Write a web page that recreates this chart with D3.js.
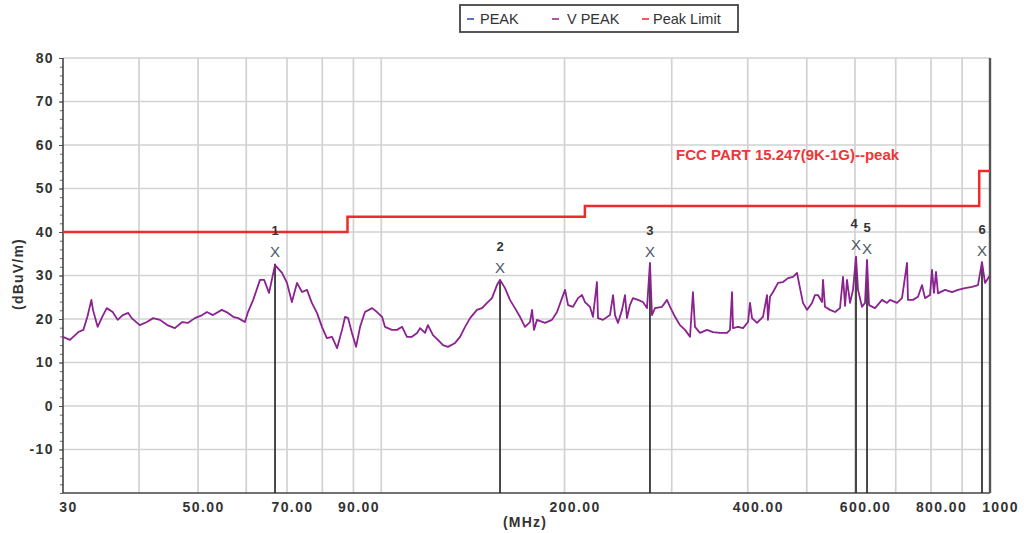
<!DOCTYPE html>
<html>
<head>
<meta charset="utf-8">
<script src="https://cdn.jsdelivr.net/npm/d3@7"></script>
<style>
  html, body { margin: 0; padding: 0; background: #fff; }
  svg { display: block; font-family: Arial, "Liberation Sans", sans-serif; }
</style>
</head>
<body>
<svg id="chart" width="1024" height="533"></svg>
<script>
// ---------- DATA ----------
const xTickValues = [30, 50, 70, 90, 200, 400, 600, 800, 1000];
const xTickLabels = ["30", "50.00", "70.00", "90.00", "200.00", "400.00", "600.00", "800.00", "1000"];
const xGridValues = [40, 50, 60, 70, 80, 90, 100, 200, 300, 400, 500, 600, 700, 800, 900];
const yTickValues = [-10, 0, 10, 20, 30, 40, 50, 60, 70, 80];
const yGridValues = [-10, 0, 10, 20, 30, 40, 50, 60, 70, 80];

const traceFreq = [
  30.0, 30.8, 31.8, 32.4, 32.9, 33.4, 33.6, 34.2, 34.8, 35.4, 36.2, 36.9, 37.6, 38.4, 38.9,
  40.1, 41.2, 42.2, 43.3, 44.5, 45.8, 47.1, 48.1, 49.4, 50.8, 51.7, 52.9, 54.7, 56.0, 57.1,
  58.2, 59.7, 60.4, 61.6, 63.2, 64.2, 65.4, 66.9, 68.7, 70.0, 71.3, 72.7,
  74.1, 75.5, 76.9, 78.4, 79.9, 81.4, 83.0, 84.6, 86.2, 87.2, 88.2, 89.5, 90.9, 92.3, 94.0,
  96.6, 98.4, 100.3, 101.4, 104.1, 106.1, 108.2, 110.2, 112.3, 114.5, 115.8, 118.0, 119.3,
  121.6, 123.9, 126.3, 128.7, 132.2, 134.7, 137.3, 139.9, 143.6, 146.4, 149.2, 152.0, 154.9,
  156.7, 159.7, 162.7, 165.8, 169.0, 172.2, 175.5, 176.9, 178.2,
  180.2, 185.8, 190.7, 194.4, 198.1, 200.4, 202.7, 206.5, 210.5, 213.7, 216.1, 220.2, 222.7,
  226.1, 227.0, 231.3, 237.5, 240.3, 242.1, 244.8, 248.6, 251.4, 253.3, 256.1, 259.1, 264.1,
  269.1, 273.2, 276.3, 278.4, 281.6, 289.2, 294.7, 298.1, 303.8, 309.5, 315.5, 321.5, 325.1,
  327.6, 333.9, 342.8, 350.7, 360.1, 369.8, 374.0, 376.9, 378.3, 385.5, 392.9, 400.4, 403.4,
  406.5, 414.2, 423.7, 430.2, 431.8, 435.1, 440.1, 448.5, 457.0, 465.8, 474.7, 481.9, 487.4,
  492.9, 500.5, 510.0, 515.8, 521.7, 529.7, 531.7, 535.7, 546.0, 556.4, 567.0, 573.5, 578.0,
  582.2, 588.9, 595.6, 602.4, 607.0, 616.2, 623.3, 628.0, 632.8, 647.3, 664.7, 677.3, 685.1,
  703.4, 716.9, 730.6, 733.3, 747.3, 761.6, 773.2, 782.0, 797.0, 803.0, 809.0, 815.3, 821.4,
  843.5, 866.1, 886.0, 909.8, 934.2, 955.6, 970.2, 981.3, 996.2, 1000
];
const traceLevel = [
  15.9, 15.2, 17.0, 17.5, 20.5, 24.4, 22.1, 18.2, 20.5, 22.5, 21.6, 19.8, 20.9, 21.4, 20.2,
  18.6, 19.3, 20.2, 19.8, 18.6, 17.9, 19.3, 19.1, 20.2, 20.9, 21.6, 20.9, 22.1, 21.4, 20.5,
  20.2, 19.3, 21.6, 24.4, 29.0, 29.0, 26.0, 32.4, 30.6, 28.3, 23.9, 28.3,
  26.2, 26.7, 23.7, 21.4, 18.2, 15.6, 15.9, 13.3, 17.5, 20.5, 20.2, 16.8, 13.6, 18.2, 21.6,
  22.5, 21.6, 20.5, 18.2, 17.5, 17.5, 18.2, 15.9, 15.9, 16.8, 17.9, 16.8, 18.6,
  16.3, 15.2, 14.0, 13.6, 14.5, 15.9, 18.2, 20.2, 22.1, 22.5, 23.7, 24.8, 27.8,
  29.0, 27.1, 24.4, 22.5, 20.5, 18.2, 19.3, 22.1, 17.5,
  19.8, 19.1, 19.8, 21.6, 24.8, 26.7, 23.2, 22.8, 24.8, 25.5, 23.9, 22.8, 20.5,
  28.5, 20.2, 19.8, 20.9, 25.5, 20.9, 19.1, 22.1, 25.5, 20.2, 23.2, 24.8, 24.4,
  23.9, 22.5, 32.9, 20.9, 22.5, 22.8, 24.4, 22.8, 20.5, 18.6, 17.5, 15.9, 26.2,
  18.2, 16.8, 17.5, 17.0, 16.8, 16.8, 17.5, 26.2, 17.9, 18.2, 17.9, 19.3, 23.7,
  20.2, 19.1, 20.5, 25.5, 19.8, 25.1, 26.2, 28.3, 28.5, 29.4, 29.7, 30.6, 27.1,
  23.7, 22.1, 23.7, 25.5, 25.5, 23.9, 29.0, 22.8, 22.1, 21.6, 22.5, 29.7, 23.0,
  29.0, 23.7, 26.7, 34.3, 26.7, 22.8, 23.7, 33.6, 23.2, 22.5, 24.4, 23.7, 24.4,
  23.7, 24.8, 32.9, 24.4, 24.4, 25.1, 27.8, 24.8, 25.5, 31.3, 26.0, 30.8, 25.9,
  26.7, 26.2, 26.7, 27.1, 27.4, 27.8, 33.1, 28.3, 29.7, 29.5
];

const limitFreq  = [30, 88, 88, 216, 216, 960, 960, 1000];
const limitLevel = [40, 40, 43.5, 43.5, 46, 46, 54, 54];
const limitLabel = "FCC PART 15.247(9K-1G)--peak";

const markerIds   = ["1", "2", "3", "4", "5", "6"];
const markerFreq  = [66.9, 156.7, 276.3, 602.4, 628.0, 970.2];
const markerLevel = [32.7, 29.0, 32.6, 34.3, 33.4, 32.9];

const legendNames  = ["PEAK", "V PEAK", "Peak Limit"];
const legendColors = ["#3a4fb0", "#9a2a9e", "#f03030"];

// ---------- LAYOUT ----------
const svg = d3.select("#chart");
const x = d3.scaleLog().domain([30, 1000]).range([63, 990]);
const y = d3.scaleLinear().domain([-20, 80]).range([493, 58]);
const textCol = "#333";
const FONT = "Arial, 'Liberation Sans', sans-serif";

// grid
svg.append("g").selectAll("line").data(xGridValues).join("line")
  .attr("x1", d => x(d)).attr("x2", d => x(d))
  .attr("y1", y(80)).attr("y2", y(-20))
  .attr("stroke", "#d2d2d2").attr("stroke-width", 1.7);
svg.append("g").selectAll("line").data(yGridValues).join("line")
  .attr("x1", x(30)).attr("x2", x(1000))
  .attr("y1", d => y(d)).attr("y2", d => y(d))
  .attr("stroke", "#d2d2d2").attr("stroke-width", 1.7);

// y axis with minor ticks
const yMinor = d3.range(-20, 80.1, 2);
svg.append("g").attr("transform", `translate(${x(30)},0)`)
  .call(d3.axisLeft(y).tickValues(yMinor).tickSize(3).tickFormat(""))
  .call(g => g.select(".domain").remove())
  .call(g => g.selectAll("line").attr("stroke", "#666").attr("stroke-width", 1));
const yAx = svg.append("g").attr("transform", `translate(${x(30)},0)`)
  .call(d3.axisLeft(y).tickValues(yTickValues).tickSize(4).tickPadding(5).tickFormat(d => d));
yAx.select(".domain").remove();
yAx.selectAll("line").attr("stroke", "#555");
yAx.selectAll("text").attr("font-size", 14).attr("font-weight", "bold")
  .attr("letter-spacing", 1.4)
  .attr("fill", textCol).attr("font-family", FONT);

// x axis
const xAx = svg.append("g").attr("transform", `translate(0,${y(-20)})`)
  .call(d3.axisBottom(x).tickValues(xTickValues).tickSize(0).tickPadding(9)
    .tickFormat((d, i) => xTickLabels[i]));
xAx.select(".domain").remove();
xAx.selectAll("text").attr("font-size", 14).attr("font-weight", "bold")
  .attr("letter-spacing", 1.4)
  .attr("fill", textCol).attr("font-family", FONT)
  .attr("dx", d => d < 100 ? 5 : 10);

// frame lines
svg.append("line").attr("x1", x(30)).attr("x2", x(30)).attr("y1", y(80)).attr("y2", y(-20))
  .attr("stroke", "#444").attr("stroke-width", 1.6);
svg.append("line").attr("x1", x(30)).attr("x2", x(1000)).attr("y1", y(-20)).attr("y2", y(-20))
  .attr("stroke", "#444").attr("stroke-width", 1.6);
svg.append("line").attr("x1", x(1000)).attr("x2", x(1000)).attr("y1", y(80)).attr("y2", y(-20))
  .attr("stroke", "#555").attr("stroke-width", 2.4);

// limit line
const limitData = limitFreq.map((f, i) => [f, limitLevel[i]]);
svg.append("path").datum(limitData)
  .attr("d", d3.line().x(d => x(d[0])).y(d => y(d[1])))
  .attr("fill", "none").attr("stroke", "#ee2a2a").attr("stroke-width", 2.5);
svg.append("text").attr("x", 676).attr("y", 160).text(limitLabel)
  .attr("font-size", 15).attr("font-weight", "bold").attr("fill", "#f03535");

// marker lines
svg.append("g").selectAll("line").data(markerFreq).join("line")
  .attr("x1", d => x(d)).attr("x2", d => x(d))
  .attr("y1", (d, i) => y(markerLevel[i])).attr("y2", y(-20))
  .attr("stroke", "#2a2a2a").attr("stroke-width", 1.7);

// trace
const traceData = traceFreq.map((f, i) => [f, traceLevel[i]]);
svg.append("path").datum(traceData)
  .attr("d", d3.line().x(d => x(d[0])).y(d => y(d[1])))
  .attr("fill", "none").attr("stroke", "#8a2290").attr("stroke-width", 1.8)
  .attr("stroke-linejoin", "round");

// marker symbols
const mg = svg.append("g");
markerFreq.forEach((f, i) => {
  const mx = x(f), my = y(markerLevel[i]);
  mg.append("text").attr("x", mx).attr("y", my - 7).attr("text-anchor", "middle")
    .attr("font-size", 15).attr("fill", "#4a5868").text("X");
  mg.append("text").attr("x", mx - (i === 3 ? 2 : 0)).attr("y", my - 29).attr("text-anchor", "middle")
    .attr("font-size", 13).attr("font-weight", "bold").attr("fill", "#333").text(markerIds[i]);
});

// axis titles
svg.append("text").attr("transform", "translate(23,274) rotate(-90)")
  .attr("text-anchor", "middle").attr("font-size", 14).attr("font-weight", "bold")
  .attr("letter-spacing", 1.2)
  .attr("fill", textCol).text("(dBuV/m)");
svg.append("text").attr("x", 525).attr("y", 527).attr("text-anchor", "middle")
  .attr("font-size", 14).attr("font-weight", "bold").attr("letter-spacing", 1.2)
  .attr("fill", textCol).text("(MHz)");

// legend
const lg = svg.append("g");
lg.append("rect").attr("x", 460).attr("y", 5).attr("width", 278).attr("height", 27)
  .attr("fill", "#fff").attr("stroke", "#444").attr("stroke-width", 1.8);
const legDashX = [467, 552, 642];
const legTextX = [480, 567, 653];
legendNames.forEach((n, i) => {
  lg.append("line").attr("x1", legDashX[i]).attr("x2", legDashX[i] + 7)
    .attr("y1", 19).attr("y2", 19).attr("stroke", legendColors[i]).attr("stroke-width", 1.6);
  lg.append("text").attr("x", legTextX[i]).attr("y", 24).attr("font-size", 14.5)
    .attr("fill", textCol).text(n);
});
</script>
</body>
</html>
